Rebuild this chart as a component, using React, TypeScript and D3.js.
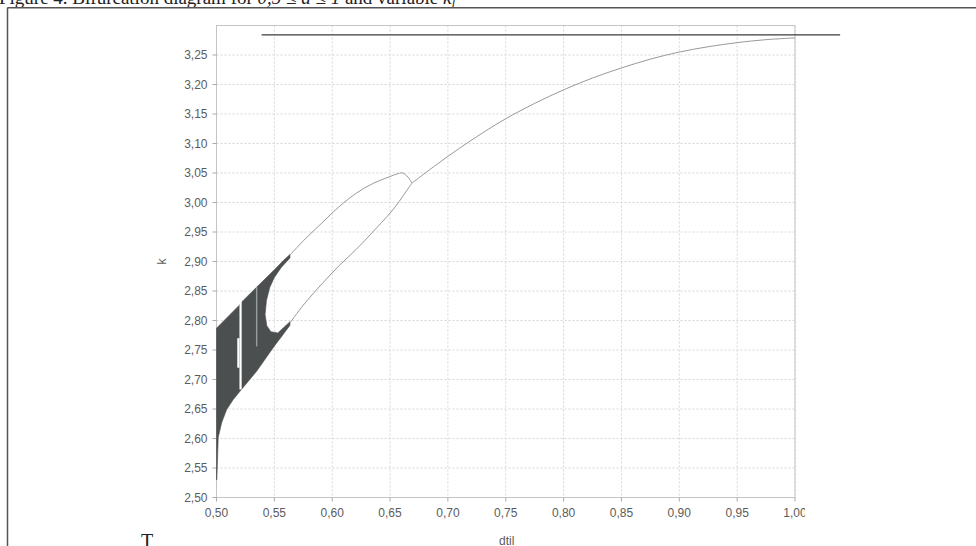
import React from "react";
import * as d3 from "d3";

// ---- data ----
const xTicks = [0.5, 0.55, 0.6, 0.65, 0.7, 0.75, 0.8, 0.85, 0.9, 0.95, 1.0];
const yTicks = [2.5, 2.55, 2.6, 2.65, 2.7, 2.75, 2.8, 2.85, 2.9, 2.95, 3.0, 3.05, 3.1, 3.15, 3.2, 3.25];

const mainX = [0.669, 0.69, 0.71, 0.73, 0.75, 0.775, 0.8, 0.825, 0.85, 0.875, 0.9, 0.925, 0.95, 0.975, 1.0];
const mainK = [3.033, 3.064, 3.092, 3.118, 3.142, 3.168, 3.191, 3.211, 3.228, 3.243, 3.255, 3.264, 3.271, 3.276, 3.279];

const upperX = [0.5635, 0.575, 0.592, 0.606, 0.621, 0.635, 0.65, 0.657, 0.661, 0.6655, 0.669];
const upperK = [2.911, 2.935, 2.967, 2.993, 3.016, 3.032, 3.044, 3.049, 3.05, 3.043, 3.033];

const lowerX = [0.5635, 0.575, 0.592, 0.606, 0.621, 0.635, 0.65, 0.658, 0.6647, 0.669];
const lowerK = [2.796, 2.826, 2.864, 2.893, 2.921, 2.95, 2.982, 3.002, 3.021, 3.033];

const chaosX = [
  0.5, 0.5197, 0.5205, 0.535, 0.55, 0.558, 0.5635,
  0.5635, 0.556, 0.55, 0.546, 0.5432, 0.542, 0.5435, 0.547, 0.553, 0.5635,
  0.5635, 0.556, 0.552, 0.5462, 0.5347, 0.5203, 0.5145, 0.5088, 0.5045, 0.5015, 0.5008, 0.5003, 0.5,
];
const chaosK = [
  2.787, 2.826, 2.829, 2.857, 2.886, 2.902, 2.912,
  2.906, 2.89, 2.873, 2.856, 2.834, 2.81, 2.791, 2.781, 2.779, 2.798,
  2.792, 2.772, 2.762, 2.746, 2.714, 2.68, 2.666, 2.649, 2.627, 2.602, 2.56, 2.53, 2.53,
];

const windowX = [0.5208, 0.5189, 0.5347];
const windowLo = [2.683, 2.72, 2.756];
const windowHi = [2.834, 2.77, 2.857];
const windowTone = ["white", "white", "light"];

const refLineX = [0.539, 1.039];
const refLineK = 3.284;

const fmt = (v: number) => d3.format(".2f")(v).replace(".", ",");

export default function App() {
  const W = 976;
  const H = 546;
  const x = d3.scaleLinear().domain([0.5, 1.0]).range([216.5, 795]);
  const y = d3.scaleLinear().domain([2.5, 3.3]).range([497.5, 25.5]);

  const line = d3
    .line<[number, number]>()
    .x((d) => x(d[0]))
    .y((d) => y(d[1]))
    .curve(d3.curveCatmullRom.alpha(0.5));
  const poly = d3
    .line<[number, number]>()
    .x((d) => x(d[0]))
    .y((d) => y(d[1]))
    .curve(d3.curveLinear);

  const mainPts = mainX.map((v, i) => [v, mainK[i]] as [number, number]);
  const upPts = upperX.map((v, i) => [v, upperK[i]] as [number, number]);
  const loPts = lowerX.map((v, i) => [v, lowerK[i]] as [number, number]);
  const chaosPts = chaosX.map((v, i) => [v, chaosK[i]] as [number, number]);

  const left = x(0.5);
  const right = x(1.0);
  const top = y(3.3);
  const bottom = y(2.5);

  return (
    <svg
      width={W}
      height={H}
      style={{ position: "absolute", left: 0, top: 0, background: "#fff" }}
      fontFamily="'Liberation Sans', Arial, sans-serif"
    >
      <defs>
        <clipPath id="xlab">
          <rect x={0} y={0} width={805} height={H} />
        </clipPath>
      </defs>
      {/* cut-off page caption */}
      <text x={-1} y={4} fontFamily="'Liberation Serif', 'Times New Roman', serif" fontSize={19} fill="#222">
        <tspan>Figure 4. Bifurcation diagram for </tspan>
        <tspan fontStyle="italic">0,5 ≤ d̃ ≤ 1</tspan>
        <tspan> and variable </tspan>
        <tspan fontStyle="italic">k</tspan>
        <tspan fontStyle="italic" fontSize={13} dy={4}>l</tspan>
      </text>
      {/* outer box */}
      <line x1={7.5} y1={7.75} x2={W} y2={7.75} stroke="#555" strokeWidth={1.5} />
      <line x1={7.5} y1={7.5} x2={7.5} y2={H} stroke="#555" strokeWidth={1.5} />

      {/* grid */}
      {xTicks.map((t) => (
        <line key={"gx" + t} x1={x(t)} x2={x(t)} y1={top} y2={bottom} stroke="#d6d6d6" strokeDasharray="2,2" />
      ))}
      {yTicks.map((t) => (
        <line key={"gy" + t} x1={left} x2={right} y1={y(t)} y2={y(t)} stroke="#d6d6d6" strokeDasharray="2,2" />
      ))}
      <rect x={left} y={top} width={right - left} height={bottom - top} fill="none" stroke="#c4c4c4" strokeWidth={1} />

      {/* ticks */}
      {yTicks.map((t) => (
        <g key={"ty" + t}>
          <line x1={left - 4} x2={left} y1={y(t)} y2={y(t)} stroke="#aaa" />
          <text x={left - 9} y={y(t)} dy="0.35em" textAnchor="end" fontSize={12} fill="#5c5c5c">
            {fmt(t)}
          </text>
        </g>
      ))}
      <g clipPath="url(#xlab)">
        {xTicks.map((t) => (
          <g key={"tx" + t}>
            <line x1={x(t)} x2={x(t)} y1={bottom} y2={bottom + 4} stroke="#aaa" />
            <text x={x(t)} y={bottom + 19} textAnchor="middle" fontSize={12} fill="#5c5c5c">
              {fmt(t)}
            </text>
          </g>
        ))}
      </g>

      {/* axis titles */}
      <text transform={`translate(${166},${(top + bottom) / 2}) rotate(-90)`} textAnchor="middle" fontSize={12} fill="#5c5c5c">
        k
      </text>
      <text x={(left + right) / 2 + 1} y={545} textAnchor="middle" fontSize={12} fill="#5c5c5c">
        dtil
      </text>

      {/* chaotic band */}
      <path d={poly(chaosPts) + "Z"} fill="#4b4f4f" stroke="#4b4f4f" strokeWidth={0.6} />
      {windowX.map((v, i) => (
        <line
          key={"w" + i}
          x1={x(v)}
          x2={x(v)}
          y1={y(windowLo[i])}
          y2={y(windowHi[i])}
          stroke={windowTone[i] === "white" ? "#fff" : "#9a9d9d"}
          strokeWidth={windowTone[i] === "white" ? 2.2 : 1.4}
        />
      ))}

      {/* branches */}
      <path d={line(upPts) || ""} fill="none" stroke="#999" strokeWidth={1} />
      <path d={line(loPts) || ""} fill="none" stroke="#999" strokeWidth={1} />
      <path d={line(mainPts) || ""} fill="none" stroke="#999" strokeWidth={1} />

      {/* reference line */}
      <line x1={x(refLineX[0])} x2={x(refLineX[1])} y1={y(refLineK)} y2={y(refLineK)} stroke="#3c3c3c" strokeWidth={1.3} />

      {/* cut-off next line of page */}
      <text x={141} y={548} fontFamily="'Liberation Serif', 'Times New Roman', serif" fontSize={20} fill="#222">
        T
      </text>
    </svg>
  );
}
